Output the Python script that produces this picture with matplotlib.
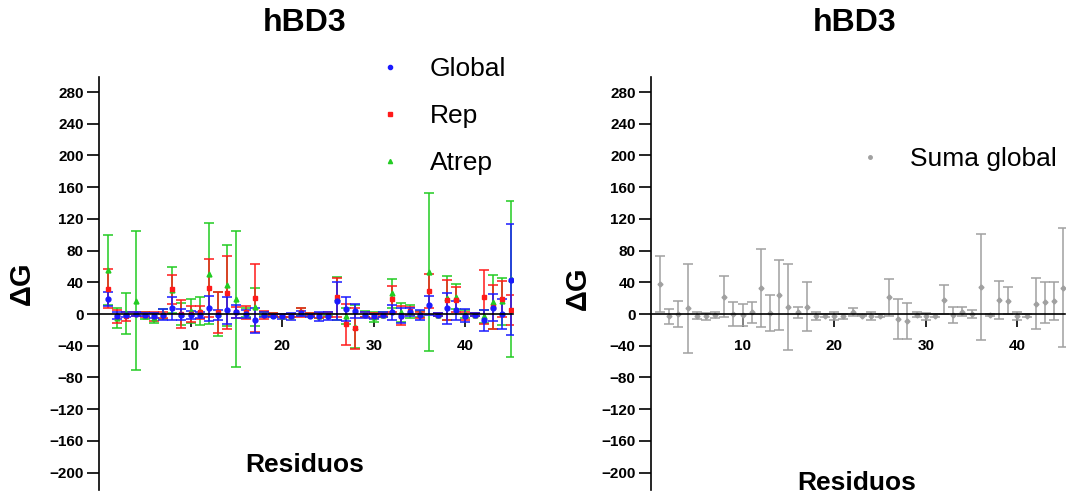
import matplotlib
matplotlib.use('Agg')
import matplotlib.pyplot as plt
import numpy as np
from matplotlib.lines import Line2D

plt.rcParams['font.family'] = ['Liberation Sans', 'DejaVu Sans']

# Residue numbers of hBD3
residues = np.arange(1, 46)

# Per-residue energy contributions (mean and SD)
global_mean = [19, -2, -1, 0, -1, -2, -1, 7, -1, -1, -1, 7, -1, 5, 3, 0, -8, -1, -2, -3,
               -3, 1, -2, -3, -2, 17, 6, 4, -1, -3, -1, 2, -2, 2, -1, 11, -1, 7, 5, -2,
               -1, -8, 8, 0, 43]
global_sd = [9, 4, 3, 2, 2, 3, 7, 14, 7, 5, 4, 16, 6, 17, 8, 5, 16, 3, 2, 3,
             4, 3, 2, 6, 5, 24, 15, 9, 4, 3, 3, 10, 9, 5, 6, 12, 2, 20, 12, 8,
             2, 13, 17, 19, 70]

rep_mean = [32, -3, -3, 0, -1, -3, -1, 31, 0, 0, 2, 33, 2, 27, 2, 2, 20, -1, -1, -2,
            -2, 2, -1, -2, -1, 21, -13, -18, -1, -2, -1, 19, -2, 4, -1, 29, -1, 18, 18, -3,
            -1, 21, 9, 19, 5]
rep_sd = [25, 8, 6, 2, 3, 6, 4, 18, 18, 10, 8, 37, 26, 46, 7, 8, 43, 5, 2, 2,
          2, 6, 2, 3, 3, 25, 26, 26, 3, 3, 2, 16, 12, 5, 4, 22, 2, 25, 16, 5,
          2, 34, 28, 23, 19]

atrep_mean = [56, -5, 1, 17, -2, -5, 0, 30, 0, 4, 4, 51, 0, 36, 19, 2, 9, 0, -1, -2,
              -2, 2, -1, -2, -1, 20, -2, -16, 0, -4, -1, 26, 2, 3, 0, 53, -1, 20, 22, 0,
              -1, -3, 15, 16, 44]
atrep_sd = [44, 13, 26, 88, 4, 6, 6, 29, 14, 15, 18, 64, 28, 51, 86, 6, 24, 3, 2, 2,
            2, 5, 2, 3, 2, 27, 10, 27, 4, 6, 3, 18, 12, 8, 4, 100, 2, 28, 16, 5,
            2, 8, 34, 30, 98]

suma_mean = [38, -3, 0, 7, -2, -3, -1, 22, 0, -1, 2, 33, 1, 24, 9, 2, 9, -2, -2, -3,
             -3, 2, -2, -3, -2, 21, -6, -9, -1, -3, -2, 18, -1, 3, 0, 34, -1, 18, 17, -2,
             -2, 13, 15, 17, 33]
suma_sd = [35, 9, 17, 56, 4, 4, 4, 26, 15, 14, 13, 49, 23, 44, 54, 7, 31, 5, 2, 5,
           3, 5, 1, 5, 2, 23, 25, 23, 3, 4, 2, 18, 10, 6, 5, 67, 1, 24, 17, 5,
           2, 32, 26, 24, 75]

y_ticks = np.arange(-200, 281, 40)
x_ticks = [10, 20, 30, 40]

W, H = 1068, 500
fig = plt.figure(figsize=(W / 100, H / 100), dpi=100)


def style_axis(ax):
    ax.set_xlim(0, 45.2)
    ax.set_ylim(-222, 299)
    ax.spines['top'].set_visible(False)
    ax.spines['right'].set_visible(False)
    ax.spines['bottom'].set_position(('data', 0))
    for s in ('left', 'bottom'):
        ax.spines[s].set_linewidth(1.2)
    ax.set_yticks(y_ticks)
    ax.set_xticks(x_ticks)
    ax.tick_params(axis='y', direction='out', length=9, width=1.2, pad=2,
                   labelsize=11)
    ax.tick_params(axis='x', direction='out', length=9, width=1.2, pad=9,
                   labelsize=11)
    for lab in ax.get_xticklabels() + ax.get_yticklabels():
        lab.set_fontweight('bold')


ax1 = fig.add_axes([99 / W, 10 / H, 414 / W, 413 / H])
ax2 = fig.add_axes([651 / W, 10 / H, 414 / W, 413 / H])

eb_kw = dict(linestyle='none', elinewidth=1.1, capsize=3.5, capthick=1.1)
ax1.errorbar(residues, atrep_mean, yerr=atrep_sd, color='#22cc22', marker='^',
             markersize=3.5, **eb_kw)
ax1.errorbar(residues, rep_mean, yerr=rep_sd, color='#ff1a1a', marker='s',
             markersize=3.5, **eb_kw)
ax1.errorbar(residues, global_mean, yerr=global_sd, color='#1a1aff', marker='o',
             markersize=3.5, **eb_kw)
style_axis(ax1)

ax2.errorbar(residues, suma_mean, yerr=suma_sd, color='#a0a0a0', marker='D',
             markersize=2.5, **eb_kw)
style_axis(ax2)

handles = [
    Line2D([], [], color='#1a1aff', marker='o', markersize=3, linestyle='none'),
    Line2D([], [], color='#ff1a1a', marker='s', markersize=3, linestyle='none'),
    Line2D([], [], color='#22cc22', marker='^', markersize=3, linestyle='none'),
]
ax1.legend(handles, ['Global', 'Rep', 'Atrep'], loc='upper left',
           bbox_to_anchor=(377 / W, 1 - 57 / H), bbox_transform=fig.transFigure,
           frameon=False, fontsize=19, handlelength=1.0, handletextpad=1.0,
           labelspacing=0.88, borderpad=0, borderaxespad=0)
ax2.legend([Line2D([], [], color='#a0a0a0', marker='o', markersize=2.5,
                   linestyle='none')], ['Suma global'], loc='upper left',
           bbox_to_anchor=(857 / W, 1 - 147 / H), bbox_transform=fig.transFigure,
           frameon=False, fontsize=19, handlelength=1.0, handletextpad=1.0,
           borderpad=0, borderaxespad=0)

# Titles and axis labels placed in figure pixels
for x, y_t in ((305, 23), (855, 23)):
    fig.text(x / W, 1 - y_t / H, 'hBD3', ha='center', va='center',
             fontsize=23, fontweight='bold')
for x, y in ((22, 283), (578, 288)):
    fig.text(x / W, 1 - y / H, 'ΔG', ha='center', va='center', rotation=90,
             fontsize=21, fontweight='bold')
for x, y in ((305, 465), (857, 483)):
    fig.text(x / W, 1 - y / H, 'Residuos', ha='center', va='center',
             fontsize=19, fontweight='bold')

fig.savefig('out.png', dpi=100)
plt.close(fig)
